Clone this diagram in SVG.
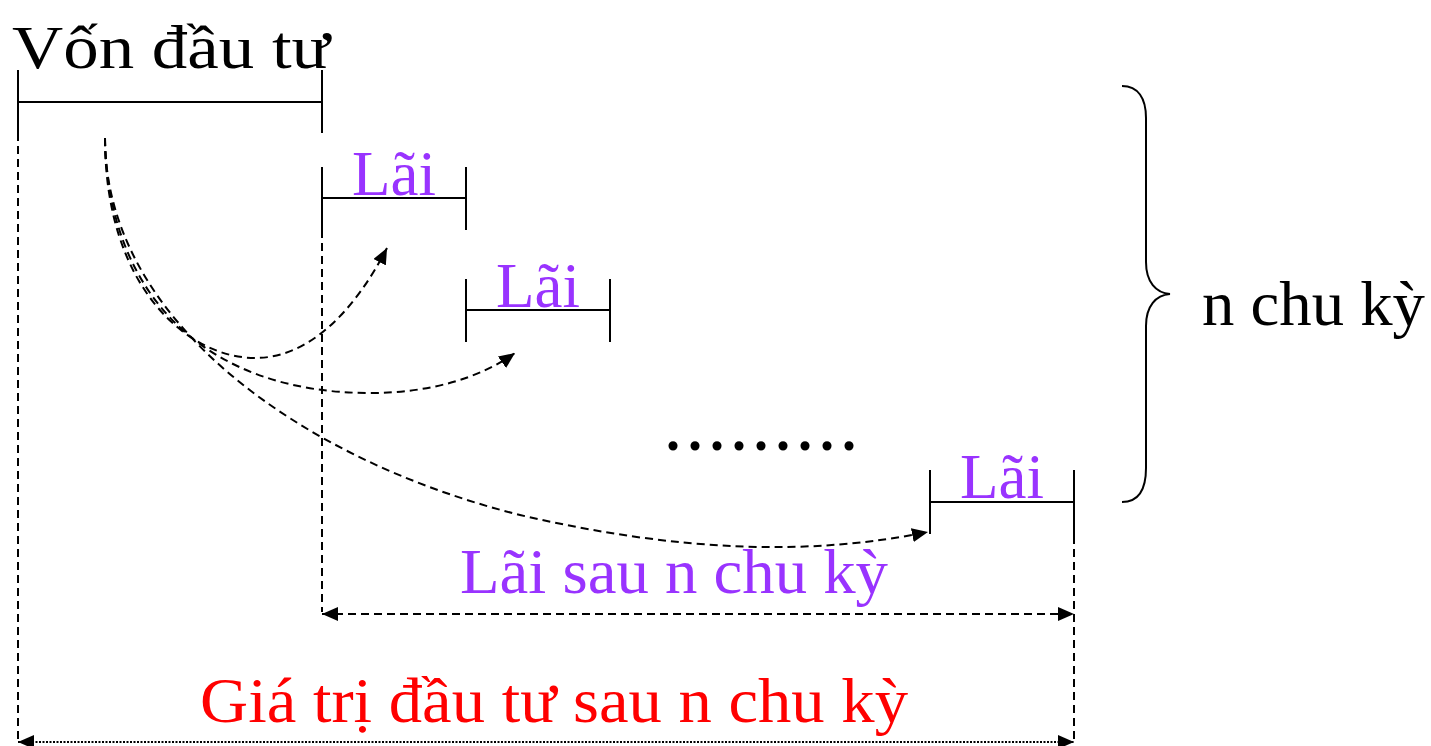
<svg xmlns="http://www.w3.org/2000/svg" width="1431" height="746" viewBox="0 0 1431 746">
<defs>
<style>
.t{font-family:"Liberation Serif","DejaVu Serif",serif;}
.blk{fill:#000;}
.pur{fill:#9933FF;}
.red{fill:#FF0000;}
.solid{stroke:#000;stroke-width:2;fill:none;}
.dash{stroke:#000;stroke-width:2;fill:none;stroke-dasharray:8 5;}
.dot{stroke:#000;stroke-width:2;fill:none;stroke-dasharray:2 1.5;}
</style>
<marker id="ah2" viewBox="0 0 10 10" refX="10" refY="5" markerWidth="16" markerHeight="14" markerUnits="userSpaceOnUse" orient="auto-start-reverse" preserveAspectRatio="none">
<path d="M0,0 L10,5 L0,10 z" fill="#000"/>
</marker>
</defs>
<rect width="1431" height="746" fill="#fff"/>

<g id="von">
<text class="t blk" x="12" y="68" font-size="62" textLength="318" lengthAdjust="spacingAndGlyphs">Vốn đầu tư</text>
<path class="solid" d="M18,70 V133 M322,70 V133 M18,102 H322"/>
</g>

<g id="lai1">
<text class="t pur" x="394" y="195" font-size="63" text-anchor="middle">Lãi</text>
<path class="solid" d="M322,167 V230 M466,167 V230 M322,198 H466"/>
</g>

<g id="lai2">
<text class="t pur" x="538" y="307" font-size="63" text-anchor="middle">Lãi</text>
<path class="solid" d="M466,279 V342 M610,279 V342 M466,310 H610"/>
</g>

<g id="dots">
<text class="t blk" x="666" y="450" font-size="56" font-weight="bold" textLength="190" lengthAdjust="spacing">.........</text>
</g>

<g id="lai3">
<text class="t pur" x="1002" y="498" font-size="63" text-anchor="middle">Lãi</text>
<path class="solid" d="M930,470 V534 M1074,470 V536 M930,502 H1074"/>
</g>

<g id="brace">
<path class="solid" d="M1122,86 C1138,86 1146,98 1146,118 L1146,262 C1146,282 1156,293 1170,294 C1156,295 1146,306 1146,326 L1146,468 C1146,490 1138,502 1122,502"/>
<text class="t blk" x="1202" y="325" font-size="63" textLength="223" lengthAdjust="spacingAndGlyphs">n chu kỳ</text>
</g>

<g id="labels">
<text class="t pur" x="460" y="593" font-size="63" textLength="428" lengthAdjust="spacingAndGlyphs">Lãi sau n chu kỳ</text>
<text class="t red" x="200" y="722" font-size="64" textLength="708" lengthAdjust="spacingAndGlyphs">Giá trị đầu tư sau n chu kỳ</text>
</g>

<g id="connectors">
<path class="dash" d="M18,133 V742"/>
<path class="dash" d="M322,230 V612"/>
<path class="dash" d="M1074,536 V742"/>
<path class="dash" d="M105,138 C105,290 190,358 255,358 C310,358 355,310 387,248" marker-end="url(#ah2)"/>
<path class="dash" d="M105,138 C108,300 210,393 370,393 C430,393 480,378 515,353" marker-end="url(#ah2)"/>
<path class="dash" d="M105,138 C105,320 300,460 520,515 C680,552 810,556 928,532" marker-end="url(#ah2)"/>
<path class="dash" d="M322,614 H1074" marker-start="url(#ah2)" marker-end="url(#ah2)"/>
<path class="dot" d="M18,742 H1074" marker-start="url(#ah2)" marker-end="url(#ah2)"/>
</g>
</svg>
